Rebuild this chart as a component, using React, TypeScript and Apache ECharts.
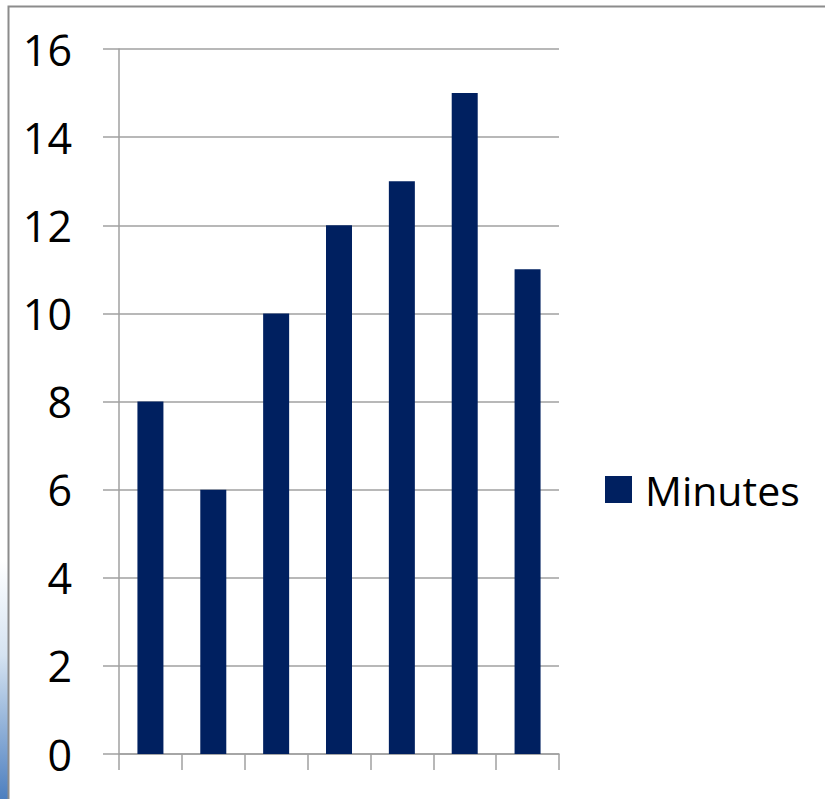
import React, { useEffect, useRef } from "react";
import * as echarts from "echarts";

const categories = ["1", "2", "3", "4", "5", "6", "7"];
const minutes = [8, 6, 10, 12, 13, 15, 11];
const seriesName = "Minutes";
const yMin = 0;
const yMax = 16;
const yInterval = 2;

export default function App() {
  const ref = useRef<HTMLDivElement>(null);
  useEffect(() => {
    if (!ref.current) return;
    const chart = echarts.init(ref.current, null, { renderer: "svg" });
    const font = "'Open Sans', sans-serif";
    chart.setOption({
      animation: false,
      backgroundColor: "#ffffff",
      graphic: [
        {
          type: "rect",
          shape: { x: 0, y: 560, width: 8, height: 239 },
          style: {
            fill: new echarts.graphic.LinearGradient(0, 0, 0, 1, [
              { offset: 0, color: "#ffffff" },
              { offset: 0.4, color: "#d5e3f1" },
              { offset: 1, color: "#4d7fbf" },
            ]),
          },
          silent: true,
        },
        {
          type: "rect",
          shape: { x: 8.5, y: 6.5, width: 840, height: 820 },
          style: { fill: "none", stroke: "#8c8c8c", lineWidth: 2 },
          silent: true,
        },
      ],
      grid: { left: 119, right: 266, top: 49, bottom: 45, containLabel: false },
      legend: {
        orient: "vertical",
        left: 605,
        top: 469,
        padding: 0,
        itemWidth: 27,
        itemHeight: 27,
        itemGap: 10,
        icon: "rect",
        textStyle: { fontFamily: font, fontSize: 41, color: "#000", padding: [0, 0, 0, 8] },
        data: [seriesName],
      },
      xAxis: {
        type: "category",
        data: categories,
        boundaryGap: true,
        axisLine: { show: true, lineStyle: { color: "#a0a0a0", width: 1.5 } },
        axisTick: { show: true, length: 16, alignWithLabel: false, lineStyle: { color: "#a0a0a0", width: 1.5 } },
        axisLabel: { show: false },
        splitLine: { show: false },
      },
      yAxis: {
        type: "value",
        min: yMin,
        max: yMax,
        interval: yInterval,
        axisLine: { show: true, lineStyle: { color: "#a0a0a0", width: 1.5 } },
        axisTick: { show: true, length: 16, lineStyle: { color: "#a0a0a0", width: 1.5 } },
        axisLabel: { fontFamily: font, fontSize: 43, color: "#000", margin: 47 },
        splitLine: { show: true, lineStyle: { color: "#a0a0a0", width: 1.5 } },
      },
      series: [
        {
          name: seriesName,
          type: "bar",
          data: minutes,
          barWidth: 26,
          itemStyle: { color: "#002060" },
        },
      ],
    });
    return () => chart.dispose();
  }, []);
  return (
    <div
      ref={ref}
      style={{ position: "fixed", left: 0, top: 0, width: 825, height: 799 }}
    />
  );
}
